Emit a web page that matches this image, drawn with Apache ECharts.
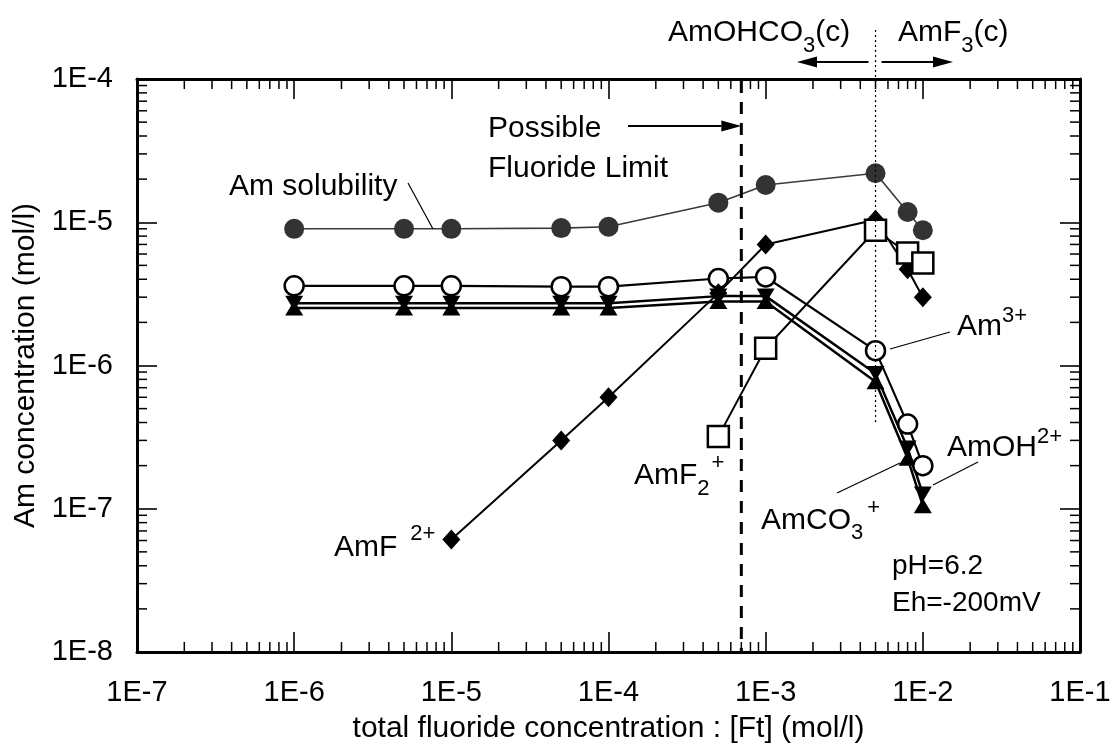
<!DOCTYPE html>
<html>
<head>
<meta charset="utf-8">
<script src="https://cdn.jsdelivr.net/npm/echarts@6/dist/echarts.min.js"></script>
<style>
  html, body { margin: 0; padding: 0; background: #fff; }
  #chart { width: 1114px; height: 747px; }
</style>
</head>
<body>
<div id="chart"></div>
<script>
// Total fluoride concentration [Ft] (mol/l) for each calculated point
const fluoride = [1e-6, 5e-6, 1e-5, 5e-5, 1e-4, 5e-4, 1e-3, 5e-3, 8e-3, 1e-2];

// Am concentrations (mol/l) at each fluoride level
const amSolubility = [9.0e-6, 9.0e-6, 9.0e-6, 9.1e-6, 9.3e-6, 1.37e-5, 1.82e-5, 2.2e-5, 1.18e-5, 8.8e-6];
const am3 = [3.6e-6, 3.6e-6, 3.6e-6, 3.55e-6, 3.55e-6, 4.05e-6, 4.15e-6, 1.27e-6, 3.9e-7, 2.0e-7];
const amOH = [2.72e-6, 2.72e-6, 2.72e-6, 2.72e-6, 2.72e-6, 3.05e-6, 3.05e-6, 8.8e-7, 2.65e-7, 1.27e-7];
const amCO3 = [2.52e-6, 2.52e-6, 2.52e-6, 2.52e-6, 2.52e-6, 2.8e-6, 2.8e-6, 7.7e-7, 2.25e-7, 1.05e-7];
const amF = [null, null, 6.1e-8, 3.0e-7, 6.0e-7, 3.2e-6, 7.0e-6, 1.04e-5, 4.7e-6, 3.0e-6];
const amF2 = [null, null, null, null, null, 3.2e-7, 1.32e-6, 8.8e-6, 6.1e-6, 5.2e-6];

// Axis tick labels, one per decade
const xTickLabels = ['1E-7', '1E-6', '1E-5', '1E-4', '1E-3', '1E-2', '1E-1'];
const yTickLabels = ['1E-8', '1E-7', '1E-6', '1E-5', '1E-4'];
const minorSteps = [2, 3, 4, 5, 6, 7, 8, 9];

// Reference levels
const fluorideLimit = 7e-4;   // possible fluoride limit
const phaseBoundary = 5e-3;   // AmOHCO3(c) / AmF3(c) boundary

const FONT = '"Liberation Sans", Arial, Helvetica, sans-serif';
const X_MIN = 1e-7, X_MAX = 1e-1, Y_MIN = 1e-8, Y_MAX = 1e-4;

function pairs(values) {
  const out = [];
  fluoride.forEach((x, i) => { if (values[i] != null) out.push([x, values[i]]); });
  return out;
}

function minorValues(lo, hi) {
  const out = [];
  for (let e = lo; e < hi; e++) for (const m of minorSteps) out.push(m * Math.pow(10, e));
  return out;
}
const xMinor = minorValues(-7, -1);
const yMinor = minorValues(-8, -4);

function axisBase(pos, labels, offset, showLabel) {
  return {
    type: 'log', logBase: 10, position: pos,
    axisLine: { show: true, lineStyle: { color: '#000', width: 3 } },
    axisTick: { show: true, inside: true, length: 20, lineStyle: { color: '#000', width: 1.6 } },
    axisLabel: {
      show: showLabel, color: '#000', fontSize: 29, fontFamily: FONT,
      formatter: v => labels[Math.round(Math.log10(v)) + offset]
    },
    splitLine: { show: false }, minorTick: { show: false }
  };
}

const chart = echarts.init(document.getElementById('chart'), null, { renderer: 'canvas' });

const xBottom = Object.assign(axisBase('bottom', xTickLabels, 7, true), {
  min: X_MIN, max: X_MAX,
  name: 'total fluoride concentration : [Ft] (mol/l)', nameLocation: 'middle', nameGap: 62,
  nameTextStyle: { color: '#000', fontSize: 30, fontFamily: FONT }
});
xBottom.axisLabel.margin = 26;
const xTop = Object.assign(axisBase('top', xTickLabels, 7, false), { min: X_MIN, max: X_MAX });
const yLeft = Object.assign(axisBase('left', yTickLabels, 8, true), {
  min: Y_MIN, max: Y_MAX,
  name: 'Am concentration (mol/l)', nameLocation: 'middle', nameGap: 94,
  nameTextStyle: { color: '#000', fontSize: 30, fontFamily: FONT }
});
yLeft.axisLabel.margin = 24;
const yRight = Object.assign(axisBase('right', yTickLabels, 8, false), { min: Y_MIN, max: Y_MAX });

function minorTickSeries(dim) {
  const vals = dim === 'x' ? xMinor : yMinor;
  return {
    type: 'custom', xAxisIndex: 0, yAxisIndex: 0, silent: true, z: 1,
    data: vals.map(v => dim === 'x' ? [v, 1e-6] : [1e-4, v]),
    renderItem: (params, api) => {
      const cs = params.coordSys;
      const p = api.coord([api.value(0), api.value(1)]);
      const st = { stroke: '#000', lineWidth: 1.5 };
      if (dim === 'x') {
        const b = cs.y + cs.height;
        return { type: 'group', children: [
          { type: 'line', shape: { x1: p[0], y1: b, x2: p[0], y2: b - 10 }, style: st },
          { type: 'line', shape: { x1: p[0], y1: cs.y, x2: p[0], y2: cs.y + 10 }, style: st }
        ] };
      }
      const r = cs.x + cs.width;
      return { type: 'group', children: [
        { type: 'line', shape: { x1: cs.x, y1: p[1], x2: cs.x + 10, y2: p[1] }, style: st },
        { type: 'line', shape: { x1: r, y1: p[1], x2: r - 10, y2: p[1] }, style: st }
      ] };
    }
  };
}

const series = [
  minorTickSeries('x'),
  minorTickSeries('y'),
  {
    name: 'AmOH2+', type: 'line', data: pairs(amOH), symbol: 'triangle', symbolRotate: 180,
    symbolSize: [18, 15], lineStyle: { color: '#000', width: 2.5 },
    itemStyle: { color: '#000' }, z: 3
  },
  {
    name: 'AmCO3+', type: 'line', data: pairs(amCO3), symbol: 'triangle',
    symbolSize: [18, 15], lineStyle: { color: '#000', width: 2.5 },
    itemStyle: { color: '#000' }, z: 3
  },
  {
    name: 'Am3+', type: 'line', data: pairs(am3), symbol: 'circle', symbolSize: 19,
    lineStyle: { color: '#000', width: 2.2 },
    itemStyle: { color: '#fff', borderColor: '#000', borderWidth: 2.5 }, z: 4
  },
  {
    name: 'AmF2+', type: 'line', data: pairs(amF), symbol: 'diamond', symbolSize: [18, 20],
    lineStyle: { color: '#000', width: 2 }, itemStyle: { color: '#000' }, z: 4
  },
  {
    name: 'AmF2+ (difluoro)', type: 'line', data: pairs(amF2), symbol: 'rect', symbolSize: 21,
    lineStyle: { color: '#000', width: 2 },
    itemStyle: { color: '#fff', borderColor: '#000', borderWidth: 2.5 }, z: 5
  },
  {
    name: 'Am solubility', type: 'line', data: pairs(amSolubility), symbol: 'circle', symbolSize: 20,
    lineStyle: { color: '#3a3a3a', width: 1.6 }, itemStyle: { color: '#333' }, z: 6
  }
];

chart.setOption({
  animation: false,
  backgroundColor: '#fff',
  grid: { left: 137, right: 34, top: 79, bottom: 95, containLabel: false, outerBoundsMode: 'none' },
  xAxis: [xBottom, xTop],
  yAxis: [yLeft, yRight],
  series: series
});

// ---- annotations ----
const measureCtx = document.createElement('canvas').getContext('2d');
function textWidth(str, size) {
  measureCtx.font = size + 'px ' + FONT;
  return measureCtx.measureText(str).width;
}
// parts: [text, fontSize, vertical offset, extra gap before]
function label(x, y, parts) {
  const out = [];
  let cx = x;
  parts.forEach(([t, size, dy, gap]) => {
    cx += gap || 0;
    out.push({
      type: 'text', x: cx, y: y + (dy || 0), z: 20, silent: true,
      style: { text: t, fill: '#000', font: size + 'px ' + FONT, align: 'left', verticalAlign: 'middle' }
    });
    cx += textWidth(t, size);
  });
  return out;
}
function seg(x1, y1, x2, y2, w, dash) {
  return {
    type: 'line', z: 20, silent: true, shape: { x1, y1, x2, y2 },
    style: { stroke: '#000', lineWidth: w, lineDash: dash || null }
  };
}
function arrow(x1, y, x2) {
  const dir = x2 > x1 ? 1 : -1;
  const back = x2 - dir * 20;
  return [
    seg(x1, y, back, y, 2.2),
    { type: 'polygon', z: 20, silent: true,
      shape: { points: [[x2, y], [back, y - 5.5], [back, y + 5.5]] }, style: { fill: '#000' } }
  ];
}

const toPx = (x, y) => chart.convertToPixel({ xAxisIndex: 0, yAxisIndex: 0 }, [x, y]);
const limitX = toPx(fluorideLimit, 1e-6)[0];
const plotTop = toPx(fluorideLimit, Y_MAX)[1];
const plotBottom = toPx(fluorideLimit, Y_MIN)[1];
const boundaryX = toPx(phaseBoundary, 1e-6)[0];
const boundaryBottom = toPx(phaseBoundary, 4e-7)[1];

let g = [];
// possible fluoride limit (dashed) and the AmOHCO3/AmF3 boundary (dotted)
g.push(seg(limitX, plotTop + 2, limitX, plotBottom, 3, [12, 9]));
g.push(seg(boundaryX, 30, boundaryX, boundaryBottom, 1.2, [2, 3]));

g = g.concat(label(488, 129, [['Possible', 30]]));
g = g.concat(label(488, 169, [['Fluoride Limit', 30]]));
g = g.concat(arrow(628, 126, limitX));
g = g.concat(label(229, 187, [['Am solubility', 30]]));
g.push(seg(408, 183, 433, 229, 1.2));
g = g.concat(label(668, 33, [['AmOHCO', 30], ['3', 22, 13], ['(c)', 30]]));
g = g.concat(label(898, 33, [['AmF', 30], ['3', 22, 13], ['(c)', 30]]));
g = g.concat(arrow(boundaryX - 7, 62, 797));
g = g.concat(arrow(boundaryX + 6, 62, 953));
g = g.concat(label(957, 327, [['Am', 30], ['3+', 22, -11]]));
g.push(seg(950, 332, 890, 349, 1.2));
g = g.concat(label(947, 448, [['AmOH', 30], ['2+', 22, -11]]));
g.push(seg(978, 462, 933, 485, 1.2));
g = g.concat(label(761, 521, [['AmCO', 30], ['3', 22, 12], ['+', 22, -13, 4]]));
g.push(seg(837, 493, 900, 463, 1.2));
g = g.concat(label(892, 566, [['pH=6.2', 28]]));
g = g.concat(label(892, 603, [['Eh=-200mV', 28]]));
g = g.concat(label(634, 476, [['AmF', 30], ['2', 22, 13], ['+', 22, -13, 2]]));
g = g.concat(label(334, 548, [['AmF', 30], ['2+', 22, -14, 13]]));

chart.setOption({ graphic: { elements: g } });
</script>
</body>
</html>
